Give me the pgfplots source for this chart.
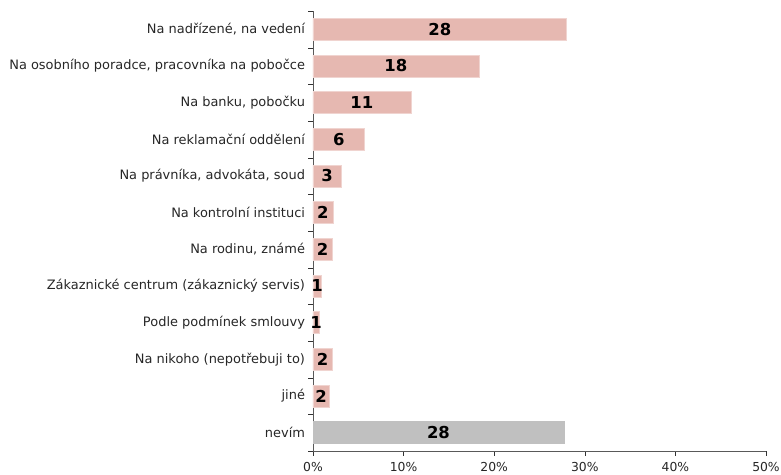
\documentclass[border=0pt]{standalone}
\usepackage{fontspec}
\setmainfont{DejaVu Sans}
\usepackage{pgfplots}
\pgfplotsset{compat=1.18}
\definecolor{barpink}{RGB}{230,184,177}
\definecolor{bargray}{RGB}{192,192,192}
\begin{document}
\begin{tikzpicture}
\begin{axis}[
  scale only axis,
  width=453bp, height=440bp,
  xmin=0, xmax=50,
  ymin=-0.5, ymax=11.5,
  y dir=reverse,
  axis x line=bottom, axis y line=left,
  axis line style={black!65, -},
  xtick={0,10,...,50},
  xticklabel={\pgfmathprintnumber{\tick}\%},
  xticklabel style={font=\fontsize{12.4}{14}\selectfont, yshift=-3bp, text=black!85},
  /pgf/number format/assume math mode=true,
  ytick={-0.5,0.5,...,11.5},
  yticklabels={},
  extra y ticks={0,...,11},
  extra y tick labels={{Na nadřízené, na vedení}, {Na osobního poradce, pracovníka na pobočce}, {Na banku, pobočku}, Na reklamační oddělení, {Na právníka, advokáta, soud}, Na kontrolní instituci, {Na rodinu, známé}, Zákaznické centrum (zákaznický servis), Podle podmínek smlouvy, Na nikoho (nepotřebuji to), jiné, nevím},
  extra y tick style={tick style={draw=none}},
  yticklabel style={font=\fontsize{13}{15}\selectfont, text=black!85},
  tick align=outside,
  major tick length=4.5bp,
  tick style={black!80},
  bar width=0.6,
  xbar, bar shift=0pt,
  nodes near coords={\pgfmathprintnumber[fixed,precision=0]{\pgfplotspointmeta}},
  point meta=x,
  visualization depends on=rawx \as \rawx,
  every node near coord/.append style={anchor=center, shift={(axis direction cs:-\rawx/2,0)}, font=\fontsize{16.5}{18}\bfseries\selectfont, text=black},
  clip=false,
]
\addplot[fill=barpink, draw=barpink!60!white] coordinates {
(28.0,0) (18.3,1) (10.8,2) (5.7,3) (3.1,4) (2.2,5) (2.1,6) (0.9,7) (0.7,8) (2.1,9) (1.8,10)
};
\addplot[fill=bargray, draw=bargray] coordinates {(27.7,11)};
\end{axis}
\pgfresetboundingbox
\path ([xshift=-313bp, yshift=11bp]current axis.north west) rectangle ([xshift=15bp, yshift=-24bp]current axis.south east);
\end{tikzpicture}
\end{document}
